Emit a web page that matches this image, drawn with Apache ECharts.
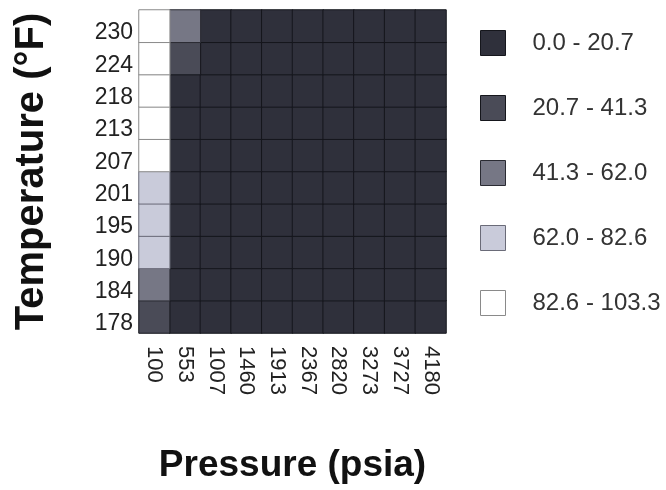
<!DOCTYPE html>
<html><head><meta charset="utf-8">
<script src="https://cdn.jsdelivr.net/npm/echarts@6/dist/echarts.min.js"></script>
<style>html,body{margin:0;padding:0;background:#fff}#c{width:666px;height:490px}</style>
</head><body><div id="c"></div>
<script>
// Pressure (psia) categories
const pressures = ['100','553','1007','1460','1913','2367','2820','3273','3727','4180'];
// Temperature (°F) categories, bottom to top
const temperatures = ['178','184','190','195','201','207','213','218','224','230'];
// Values by temperature row (same order as temperatures), columns follow pressures
const row178 = [35, 12, 8, 6, 5, 4, 3, 3, 2, 2];
const row184 = [55, 13, 9, 7, 5, 4, 4, 3, 3, 2];
const row190 = [70, 14, 9, 7, 6, 5, 4, 3, 3, 2];
const row195 = [74, 15, 10, 8, 6, 5, 4, 4, 3, 3];
const row201 = [78, 15, 10, 8, 7, 5, 5, 4, 3, 3];
const row207 = [88, 16, 11, 9, 7, 6, 5, 4, 4, 3];
const row213 = [95, 17, 12, 9, 8, 6, 5, 5, 4, 3];
const row218 = [98, 19, 13, 10, 8, 7, 6, 5, 4, 4];
const row224 = [101, 33, 15, 12, 10, 9, 8, 7, 6, 5];
const row230 = [103.3, 52, 18, 15, 12, 10, 9, 8, 7, 6];
const rows = [row178, row184, row190, row195, row201, row207, row213, row218, row224, row230];
// Value bins and legend labels
const binEdges = [0.0, 20.7, 41.3, 62.0, 82.6, 103.3];
const binLabels = ['0.0 - 20.7', '20.7 - 41.3', '41.3 - 62.0', '62.0 - 82.6', '82.6 - 103.3'];
const binColors = ['#2f303b', '#4a4b57', '#767785', '#c9cbda', '#ffffff'];
const binBorders = ['#15161c', '#15161c', '#2a2b33', '#6a6b78', '#8a8a8a'];

const series = binLabels.map((lab, b) => {
  const data = [];
  rows.forEach((r, yi) => r.forEach((v, xi) => {
    const lo = binEdges[b], hi = binEdges[b + 1];
    if (v >= lo && (v < hi || (b === binLabels.length - 1 && v <= hi))) data.push([xi, yi, v]);
  }));
  return {
    name: lab, type: 'heatmap', data,
    itemStyle: { color: binColors[b], borderColor: binBorders[b], borderWidth: 1 },
    emphasis: { disabled: true }
  };
});

const font = "'Liberation Sans', Arial, sans-serif";
const chart = echarts.init(document.getElementById('c'));
chart.setOption({
  animation: false,
  grid: { left: 139, top: 10, right: 220, bottom: 157 },
  xAxis: {
    type: 'category', data: pressures,
    name: 'Pressure (psia)', nameLocation: 'middle', nameGap: 114,
    nameTextStyle: { fontFamily: font, fontWeight: 'bold', fontSize: 37, color: '#111' },
    axisLine: { show: false }, axisTick: { show: false }, splitLine: { show: false },
    axisLabel: { rotate: -90, fontFamily: font, fontSize: 22, color: '#222', margin: 13 }
  },
  yAxis: {
    type: 'category', data: temperatures,
    name: 'Temperature (°F)', nameLocation: 'middle', nameGap: 87,
    nameTextStyle: { fontFamily: font, fontWeight: 'bold', fontSize: 40, color: '#111' },
    axisLine: { show: false }, axisTick: { show: false }, splitLine: { show: false },
    axisLabel: { fontFamily: font, fontSize: 23, color: '#222', margin: 6, verticalAlign: 'top', lineHeight: 14 }
  },
  legend: {
    orient: 'vertical', left: 475, top: 25,
    icon: 'rect', itemWidth: 25, itemHeight: 25, itemGap: 39,
    data: binLabels.map((l, b) => ({ name: l, itemStyle: { borderColor: binBorders[b], borderWidth: 1 } })),
    textStyle: { fontFamily: font, fontSize: 24, color: '#333', padding: [0, 0, 0, 22] },
    selectedMode: false
  },
  series
});
</script></body></html>
